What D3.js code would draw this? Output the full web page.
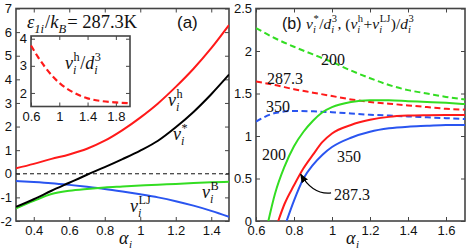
<!DOCTYPE html>
<html>
<head>
<meta charset="utf-8">
<script src="https://cdn.jsdelivr.net/npm/d3@7"></script>
<style>
  body { margin: 0; background: #fff; }
  svg { display: block; }
  .tick text { font-family: "Liberation Sans", Arial, sans-serif; font-size: 13px; fill: #111; }
  .tick line { stroke: #444; stroke-width: 1; }
  .domain { display: none; }
  .frame { fill: none; stroke: #444; stroke-width: 1.6; }
  .math { font-family: "Liberation Serif", "DejaVu Serif", serif; fill: #111; }
</style>
</head>
<body>
<svg id="chart" width="469" height="250"></svg>
<script>
// panel (a): alpha_i grid and the four contributions
const alphaA = [0.3, 0.4, 0.5, 0.6, 0.7, 0.8, 0.9, 1.0, 1.1, 1.2, 1.3, 1.4, 1.5]
const vH   = [0.23, 0.42, 0.63, 0.82, 1.06, 1.4, 1.85, 2.38, 2.98, 3.68, 4.45, 5.32, 6.3]
const vStar = [-1.4, -1.08, -0.72, -0.38, -0.04, 0.28, 0.62, 0.98, 1.4, 1.97, 2.62, 3.37, 4.2]
const vB   = [-1.47, -1.15, -0.86, -0.72, -0.64, -0.58, -0.54, -0.5, -0.46, -0.43, -0.39, -0.36, -0.34]
const vLJ  = [-0.31, -0.35, -0.4, -0.47, -0.55, -0.64, -0.75, -0.87, -1.0, -1.16, -1.35, -1.57, -1.82]

// inset: v^h / d^3
const alphaIn = [0.6, 0.7, 0.8, 0.9, 1.0, 1.2, 1.4, 1.6, 1.8, 2.0]
const vHd3 = [3.75, 3.32, 2.95, 2.63, 2.37, 2.02, 1.8, 1.7, 1.65, 1.62]

// panel (b): dashed (v^h + v^LJ)/d^3 and solid v*/d^3 for three eps values
const alphaB = [0.6, 0.7, 0.8, 0.9, 1.0, 1.1, 1.2, 1.3, 1.4, 1.5, 1.6, 1.7]
const dash200 = [2.27, 2.15, 2.05, 1.96, 1.87, 1.77, 1.68, 1.6, 1.54, 1.5, 1.46, 1.43]
const dash287 = [1.64, 1.6, 1.55, 1.51, 1.47, 1.43, 1.4, 1.38, 1.36, 1.34, 1.32, 1.31]
const dash350 = [1.17, 1.27, 1.295, 1.29, 1.28, 1.265, 1.25, 1.24, 1.23, 1.22, 1.21, 1.2]

const solidAlpha200 = [0.665, 0.7, 0.75, 0.8, 0.85, 0.9, 0.95, 1.0, 1.1, 1.2, 1.3, 1.4, 1.5, 1.6, 1.7]
const solid200 = [0, 0.32, 0.64, 0.88, 1.05, 1.18, 1.28, 1.34, 1.4, 1.42, 1.42, 1.41, 1.4, 1.39, 1.376]
const solidAlpha287 = [0.717, 0.75, 0.8, 0.85, 0.9, 0.95, 1.0, 1.1, 1.2, 1.3, 1.4, 1.5, 1.6, 1.7]
const solid287 = [0, 0.2, 0.42, 0.62, 0.78, 0.93, 1.03, 1.13, 1.19, 1.225, 1.24, 1.245, 1.247, 1.248]
const solidAlpha350 = [0.761, 0.8, 0.85, 0.9, 0.95, 1.0, 1.1, 1.2, 1.3, 1.4, 1.5, 1.6, 1.7]
const solid350 = [0, 0.24, 0.5, 0.66, 0.78, 0.87, 0.98, 1.05, 1.09, 1.11, 1.12, 1.13, 1.13]

const ticksXA = [0.4, 0.6, 0.8, 1, 1.2, 1.4]
const ticksYA = [-2, -1, 0, 1, 2, 3, 4, 5, 6, 7]
const ticksXIn = [0.6, 1, 1.4, 1.8]
const ticksYIn = [2, 3, 4]
const ticksXB = [0.6, 0.8, 1, 1.2, 1.4, 1.6]
const ticksYB = [0, 0.5, 1, 1.5, 2, 2.5]

const RED = "#ff1a1a", GREEN = "#33dd22", BLUE = "#2a55f0"

const svg = d3.select("#chart")
const defs = svg.append("defs")

const xA = d3.scaleLinear().domain([0.3, 1.5]).range([16, 229])
const yA = d3.scaleLinear().domain([-2, 7]).range([221, 8.5])
const xI = d3.scaleLinear().domain([0.6, 2.0]).range([31, 130])
const yI = d3.scaleLinear().domain([1.5, 4.1]).range([106.5, 36])
const xB = d3.scaleLinear().domain([0.6, 1.7]).range([256, 465])
const yB = d3.scaleLinear().domain([0, 2.5]).range([221, 8.5])

const fmt = d => String(d)

function frame(g, x, y, tx, ty, labelsX, labelsY) {
  const [x0, x1] = x.range(), [y0, y1] = y.range()
  g.append("g").attr("transform", `translate(0,${y0})`)
    .call(d3.axisBottom(x).tickValues(tx).tickSize(-4).tickSizeOuter(0).tickPadding(5).tickFormat(labelsX ? fmt : ""))
  g.append("g").attr("transform", `translate(0,${y1})`)
    .call(d3.axisTop(x).tickValues(tx).tickSize(-4).tickSizeOuter(0).tickFormat(""))
  g.append("g").attr("transform", `translate(${x0},0)`)
    .call(d3.axisLeft(y).tickValues(ty).tickSize(-4).tickSizeOuter(0).tickPadding(4).tickFormat(labelsY ? fmt : ""))
  g.append("g").attr("transform", `translate(${x1},0)`)
    .call(d3.axisRight(y).tickValues(ty).tickSize(-4).tickSizeOuter(0).tickFormat(""))
  g.append("rect").attr("class", "frame")
    .attr("x", x0).attr("y", y1).attr("width", x1 - x0).attr("height", y0 - y1)
}

function clip(id, x, y) {
  const [x0, x1] = x.range(), [y0, y1] = y.range()
  defs.append("clipPath").attr("id", id).append("rect")
    .attr("x", x0).attr("y", y1).attr("width", x1 - x0).attr("height", y0 - y1)
}

function curve(g, x, y, xs, ys, color, dashed, w) {
  const line = d3.line().x(d => x(d[0])).y(d => y(d[1])).curve(d3.curveMonotoneX)
  g.append("path").datum(d3.zip(xs, ys))
    .attr("d", line)
    .attr("fill", "none")
    .attr("stroke", color)
    .attr("stroke-width", w || 2)
    .attr("stroke-dasharray", dashed ? "6,3.5" : null)
}

// math-ish text: tokens {t, it, sub, sup}
function mathText(x, y, tokens, size) {
  const g = svg.append("g").attr("class", "math")
  let cx = x
  tokens.forEach(tok => {
    if (tok.t) {
      const t = g.append("text").attr("x", cx).attr("y", y)
        .attr("font-size", size).attr("font-style", tok.it ? "italic" : "normal")
        .text(tok.t)
      cx += t.node().getComputedTextLength()
    }
    let adv = 0
    if (tok.sup) {
      const s = g.append("text").attr("x", cx + 0.5).attr("y", y - size * 0.42)
        .attr("font-size", size * 0.68).text(tok.sup)
      adv = Math.max(adv, s.node().getComputedTextLength())
    }
    if (tok.sub) {
      const s = g.append("text").attr("x", cx).attr("y", y + size * 0.25)
        .attr("font-size", size * 0.68).attr("font-style", "italic").text(tok.sub)
      adv = Math.max(adv, s.node().getComputedTextLength())
    }
    cx += adv + (adv ? 1 : 0)
  })
  return g
}

// ---------- panel (a)
clip("clipA", xA, yA)
clip("clipB", xB, yB)
const gA = svg.append("g")
frame(gA, xA, yA, ticksXA, ticksYA, true, true)
const cA = gA.append("g").attr("clip-path", "url(#clipA)")
cA.append("line").attr("x1", xA(0.3)).attr("x2", xA(1.5)).attr("y1", yA(0)).attr("y2", yA(0))
  .attr("stroke", "#111").attr("stroke-width", 1).attr("stroke-dasharray", "4,3")
curve(cA, xA, yA, alphaA, vLJ, BLUE)
curve(cA, xA, yA, alphaA, vB, GREEN)
curve(cA, xA, yA, alphaA, vH, RED)
curve(cA, xA, yA, alphaA, vStar, "#000")

// inset
const gI = svg.append("g")
gI.append("rect").attr("x", 31).attr("y", 36).attr("width", 99).attr("height", 70.5).attr("fill", "#fff")
frame(gI, xI, yI, ticksXIn, ticksYIn, true, true)
curve(gI, xI, yI, alphaIn, vHd3, RED, true, 2.2)

// ---------- panel (b)
const gB = svg.append("g")
frame(gB, xB, yB, ticksXB, ticksYB, true, true)
const cB = gB.append("g").attr("clip-path", "url(#clipB)")
curve(cB, xB, yB, alphaB, dash200, GREEN, true)
curve(cB, xB, yB, alphaB, dash287, RED, true)
curve(cB, xB, yB, alphaB, dash350, BLUE, true)
curve(cB, xB, yB, solidAlpha200, solid200, GREEN)
curve(cB, xB, yB, solidAlpha287, solid287, RED)
curve(cB, xB, yB, solidAlpha350, solid350, BLUE)

// arrow annotation pointing to the 287.3 solid curve
defs.append("marker").attr("id", "arr").attr("viewBox", "0 0 10 10")
  .attr("refX", 9).attr("refY", 5).attr("markerWidth", 7).attr("markerHeight", 7)
  .attr("orient", "auto")
  .append("path").attr("d", "M0,1 L10,5 L0,9 Z").attr("fill", "#000")
const tip = [xB(0.83) + 1, yB(0.55)]
const tail = [xB(0.995), yB(0.33)]
gB.append("path")
  .attr("d", `M${tail[0]},${tail[1]} Q${tip[0] + 12},${tail[1] + 2} ${tip[0]},${tip[1]}`)
  .attr("fill", "none").attr("stroke", "#000").attr("stroke-width", 1.3)
  .attr("marker-end", "url(#arr)")

// ---------- text
svg.append("text").attr("x", 119).attr("y", 244).attr("class", "math")
  .attr("font-size", 18).attr("font-style", "italic").text("α")
svg.append("text").attr("x", 129).attr("y", 248).attr("class", "math")
  .attr("font-size", 11).attr("font-style", "italic").text("i")
svg.append("text").attr("x", 346).attr("y", 244).attr("class", "math")
  .attr("font-size", 18).attr("font-style", "italic").text("α")
svg.append("text").attr("x", 356).attr("y", 248).attr("class", "math")
  .attr("font-size", 11).attr("font-style", "italic").text("i")

mathText(27, 28, [{t: "ε", it: true, sub: "1i"}, {t: "/"}, {t: "k", it: true, sub: "B"}, {t: " = 287.3K"}], 18.5)
svg.append("text").attr("x", 177).attr("y", 28)
  .attr("font-family", "Liberation Sans, Arial, sans-serif").attr("font-size", 17).attr("fill", "#111").text("(a)")

mathText(65, 69, [{t: "v", it: true, sub: "i", sup: "h"}, {t: "/"}, {t: "d", it: true, sub: "i", sup: "3"}], 18)
mathText(168, 106, [{t: "v", it: true, sub: "i", sup: "h"}], 18)
mathText(173, 140, [{t: "v", it: true, sub: "i", sup: "*"}], 18)
mathText(202, 198, [{t: "v", it: true, sub: "i", sup: "B"}], 18)
mathText(130, 212, [{t: "v", it: true, sub: "i", sup: "LJ"}], 18)

svg.append("text").attr("x", 282).attr("y", 29)
  .attr("font-family", "Liberation Sans, Arial, sans-serif").attr("font-size", 16).attr("fill", "#111").text("(b)")
mathText(306, 29, [{t: "v", it: true, sub: "i", sup: "*"}, {t: "/"}, {t: "d", it: true, sub: "i", sup: "3"},
  {t: ", ("}, {t: "v", it: true, sub: "i", sup: "h"}, {t: " + "}, {t: "v", it: true, sub: "i", sup: "LJ"},
  {t: ")/"}, {t: "d", it: true, sub: "i", sup: "3"}], 15.5)

const numLabels = [["200", 321, 65], ["287.3", 267, 84], ["350", 266, 112], ["200", 262, 160], ["350", 337, 162], ["287.3", 334, 200]]
svg.selectAll(".numlab").data(numLabels).enter().append("text")
  .attr("class", "math numlab").attr("font-size", 16)
  .attr("x", d => d[1]).attr("y", d => d[2]).text(d => d[0])
</script>
</body>
</html>
